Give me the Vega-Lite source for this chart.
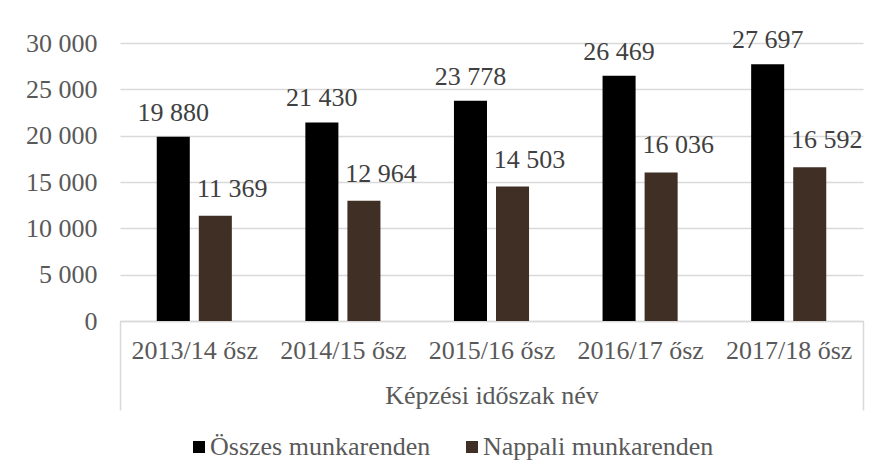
{
  "$schema": "https://vega.github.io/schema/vega-lite/v6.json",
  "width": 743,
  "height": 278,
  "autosize": {"type": "none"},
  "padding": {"left": 120, "top": 43, "right": 18, "bottom": 154},
  "background": "white",
  "config": {
    "locale": {"number": {"decimal": ",", "thousands": " ", "grouping": [3], "currency": ["", ""]}},
    "view": {"stroke": null},
    "font": "Liberation Serif"
  },
  "data": {
    "values": [
      {"period": "2013/14 ősz", "series": "Összes munkarenden", "value": 19880},
      {"period": "2013/14 ősz", "series": "Nappali munkarenden", "value": 11369},
      {"period": "2014/15 ősz", "series": "Összes munkarenden", "value": 21430},
      {"period": "2014/15 ősz", "series": "Nappali munkarenden", "value": 12964},
      {"period": "2015/16 ősz", "series": "Összes munkarenden", "value": 23778},
      {"period": "2015/16 ősz", "series": "Nappali munkarenden", "value": 14503},
      {"period": "2016/17 ősz", "series": "Összes munkarenden", "value": 26469},
      {"period": "2016/17 ősz", "series": "Nappali munkarenden", "value": 16036},
      {"period": "2017/18 ősz", "series": "Összes munkarenden", "value": 27697},
      {"period": "2017/18 ősz", "series": "Nappali munkarenden", "value": 16592}
    ]
  },
  "encoding": {
    "x": {
      "field": "period",
      "type": "nominal",
      "sort": null,
      "scale": {"paddingInner": 0, "paddingOuter": 0},
      "axis": {
        "title": "Képzési időszak név",
        "labelAngle": 0,
        "labelFontSize": 26,
        "labelColor": "#595959",
        "labelPadding": -73,
        "tickBand": "extent",
        "ticks": true,
        "tickSize": 89,
        "tickColor": "#d9d9d9",
        "tickWidth": 1.5,
        "tickOpacity": {"condition": {"test": "datum.index == 1 || datum.index < 0", "value": 1}, "value": 0},
        "domainColor": "#d9d9d9",
        "domainWidth": 1.5,
        "titleFontSize": 26,
        "titleColor": "#595959",
        "titleFontWeight": "normal",
        "titleBaseline": "top",
        "titleY": 61
      }
    },
    "xOffset": {
      "field": "series",
      "sort": ["Összes munkarenden", "Nappali munkarenden"],
      "scale": {"paddingInner": 0.2143, "paddingOuter": 0.874}
    },
    "y": {
      "field": "value",
      "type": "quantitative",
      "scale": {"domain": [0, 30000], "nice": false},
      "axis": {
        "title": null,
        "domain": false,
        "ticks": false,
        "values": [0, 5000, 10000, 15000, 20000, 25000, 30000],
        "labelExpr": "format(datum.value, ',')",
        "labelFontSize": 26,
        "labelColor": "#595959",
        "labelPadding": 23,
        "gridColor": "#d9d9d9",
        "gridWidth": 1.5
      }
    }
  },
  "layer": [
    {
      "mark": {"type": "bar"},
      "encoding": {
        "color": {
          "field": "series",
          "type": "nominal",
          "scale": {"domain": ["Összes munkarenden", "Nappali munkarenden"], "range": ["#000000", "#3f2f25"]},
          "legend": {
            "title": null,
            "orient": "none",
            "legendX": 66,
            "legendY": 391,
            "direction": "horizontal",
            "symbolType": "square",
            "symbolSize": 144,
            "symbolStrokeWidth": 0,
            "labelFontSize": 26,
            "labelColor": "#595959",
            "labelOffset": -2,
            "columnPadding": 28,
            "padding": 0,
            "labelLimit": 400
          }
        }
      }
    },
    {
      "transform": [{"filter": "datum.series === 'Összes munkarenden'"}],
      "mark": {"type": "text", "baseline": "alphabetic", "dy": -16, "fontSize": 26, "color": "#404040"},
      "encoding": {"text": {"field": "value", "type": "quantitative", "format": ","}}
    },
    {
      "transform": [{"filter": "datum.series === 'Nappali munkarenden'"}],
      "mark": {"type": "text", "baseline": "alphabetic", "dy": -19, "dx": 17, "fontSize": 26, "color": "#404040"},
      "encoding": {"text": {"field": "value", "type": "quantitative", "format": ","}}
    }
  ]
}
